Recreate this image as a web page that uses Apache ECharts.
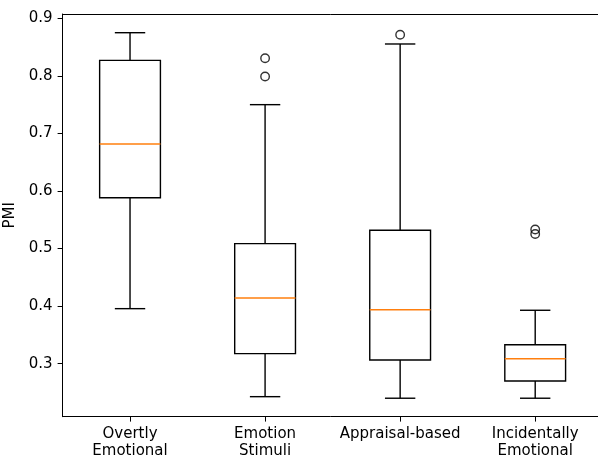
<!DOCTYPE html>
<html>
<head>
<meta charset="utf-8">
<script src="https://cdn.jsdelivr.net/npm/echarts@6/dist/echarts.min.js"></script>
<style>html,body{margin:0;padding:0;background:#fff;}#c{width:598px;height:458px;}</style>
</head>
<body>
<div id="c"></div>
<script>
const categories = ['Overtly\nEmotional', 'Emotion\nStimuli', 'Appraisal-based', 'Incidentally\nEmotional'];
const whiskerLow  = [0.3956, 0.2427, 0.2400, 0.2400];
const q1          = [0.5884, 0.3174, 0.3064, 0.2700];
const median      = [0.6817, 0.4142, 0.3938, 0.3087];
const q3          = [0.8270, 0.5085, 0.5317, 0.3330];
const whiskerHigh = [0.8750, 0.7500, 0.8554, 0.3928];
const outlierCategory = [2, 2, 3, 4, 4];
const outlierValue    = [0.8305, 0.7990, 0.8715, 0.5330, 0.5252];
const xPositions = [1, 2, 3, 4];
const yTicks = [0.3, 0.4, 0.5, 0.6, 0.7, 0.8, 0.9];

const FONT = 'DejaVu Sans';
const FS = 15;
const LW = 1.4;
const boxRows = categories.map((c, i) => [xPositions[i], whiskerLow[i], q1[i], median[i], q3[i], whiskerHigh[i]]);
const outlierRows = outlierCategory.map((c, i) => [c, outlierValue[i]]);

function renderBox(params, api) {
  const p = api.value(0);
  const lo = api.value(1), a = api.value(2), m = api.value(3), b = api.value(4), hi = api.value(5);
  const unit = api.size([1, 0])[0];
  const half = unit * 0.45 / 2;
  const cap = half / 2;
  const pLo = api.coord([p, lo]), pA = api.coord([p, a]), pM = api.coord([p, m]), pB = api.coord([p, b]), pHi = api.coord([p, hi]);
  const x = pA[0];
  const ls = { stroke: '#000', lineWidth: LW, fill: null };
  return {
    type: 'group',
    children: [
      { type: 'rect', shape: { x: x - half, y: pB[1], width: 2 * half, height: pA[1] - pB[1] }, style: ls },
      { type: 'line', shape: { x1: x, y1: pA[1], x2: x, y2: pLo[1] }, style: ls },
      { type: 'line', shape: { x1: x, y1: pB[1], x2: x, y2: pHi[1] }, style: ls },
      { type: 'line', shape: { x1: x - cap, y1: pLo[1], x2: x + cap, y2: pLo[1] }, style: ls },
      { type: 'line', shape: { x1: x - cap, y1: pHi[1], x2: x + cap, y2: pHi[1] }, style: ls },
      { type: 'line', shape: { x1: x - half, y1: pM[1], x2: x + half, y2: pM[1] }, style: { stroke: '#ff7f0e', lineWidth: LW } }
    ]
  };
}

const chart = echarts.init(document.getElementById('c'), null, { renderer: 'canvas' });
chart.setOption({
  animation: false,
  backgroundColor: '#fff',
  grid: { left: 62.5, top: 14, right: 0, height: 402.7, show: false, outerBoundsMode: 'none', containLabel: false },
  xAxis: [{
    type: 'value',
    min: 0.5,
    max: 4.465,
    axisLine: { show: true, onZero: false, lineStyle: { color: '#000', width: 1 } },
    axisTick: { show: true, length: 4.9, customValues: xPositions, lineStyle: { color: '#000', width: 1 } },
    axisLabel: { customValues: xPositions, margin: 9.5, color: '#000', fontFamily: FONT, fontSize: FS, lineHeight: 16.5,
                 formatter: v => categories[Math.round(v) - 1] },
    splitLine: { show: false }
  }, {
    type: 'value',
    position: 'top',
    min: 0.5,
    max: 4.465,
    axisLine: { show: true, onZero: false, lineStyle: { color: '#000', width: 1 } },
    axisTick: { show: false },
    axisLabel: { show: false },
    splitLine: { show: false }
  }],
  yAxis: {
    type: 'value',
    min: 0.2079,
    max: 0.9075,
    name: 'PMI',
    nameLocation: 'middle',
    nameGap: 33,
    nameTextStyle: { color: '#000', fontFamily: FONT, fontSize: FS },
    axisLine: { show: true, onZero: false, lineStyle: { color: '#000', width: 1 } },
    axisTick: { show: true, length: 4.9, customValues: yTicks, lineStyle: { color: '#000', width: 1 } },
    axisLabel: { margin: 10, customValues: yTicks, color: '#000', fontFamily: FONT, fontSize: FS, formatter: v => v.toFixed(1) },
    splitLine: { show: false }
  },
  series: [
    {
      type: 'custom',
      renderItem: renderBox,
      encode: { x: 0, y: [1, 2, 3, 4, 5] },
      data: boxRows,
      clip: false,
      z: 2
    },
    {
      type: 'scatter',
      data: outlierRows,
      symbol: 'circle',
      symbolSize: 8.5,
      itemStyle: { color: 'rgba(0,0,0,0)', borderColor: '#000', borderWidth: LW },
      z: 3
    }
  ]
});
</script>
</body>
</html>
